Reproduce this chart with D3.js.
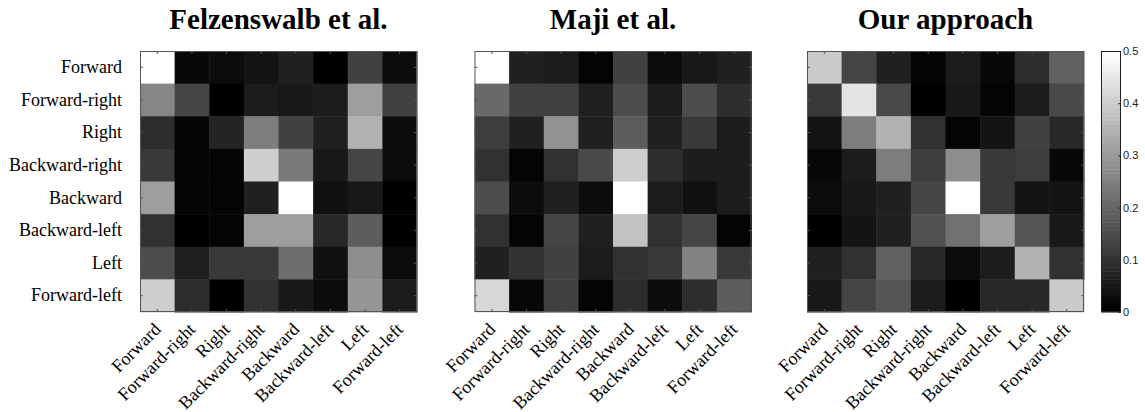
<!DOCTYPE html>
<html>
<head>
<meta charset="utf-8">
<script src="https://cdn.jsdelivr.net/npm/d3@7"></script>
<style>
  body { margin: 0; background: #fff; }
  svg { display: block; }
</style>
</head>
<body>
<svg id="chart" width="1145" height="412"></svg>
<script>
// Direction classes (rows = true class, columns = predicted class)
const directions = ["Forward", "Forward-right", "Right", "Backward-right",
                    "Backward", "Backward-left", "Left", "Forward-left"];

const methodTitles = ["Felzenswalb et al.", "Maji et al.", "Our approach"];

// Row-normalised confusion matrices
const felzenswalb = [
  [0.690, 0.020, 0.025, 0.040, 0.065, 0.005, 0.125, 0.030],
  [0.265, 0.135, 0.005, 0.060, 0.050, 0.060, 0.305, 0.125],
  [0.090, 0.015, 0.075, 0.245, 0.125, 0.070, 0.350, 0.030],
  [0.115, 0.015, 0.015, 0.405, 0.240, 0.050, 0.135, 0.025],
  [0.305, 0.015, 0.010, 0.070, 0.510, 0.035, 0.050, 0.005],
  [0.100, 0.005, 0.015, 0.305, 0.305, 0.080, 0.185, 0.005],
  [0.155, 0.070, 0.110, 0.110, 0.215, 0.035, 0.275, 0.030],
  [0.400, 0.090, 0.005, 0.100, 0.050, 0.025, 0.295, 0.055]
];

const maji = [
  [0.600, 0.070, 0.055, 0.010, 0.125, 0.025, 0.050, 0.065],
  [0.205, 0.125, 0.125, 0.070, 0.155, 0.055, 0.155, 0.090],
  [0.120, 0.070, 0.285, 0.070, 0.185, 0.070, 0.110, 0.060],
  [0.100, 0.015, 0.100, 0.145, 0.400, 0.090, 0.060, 0.060],
  [0.155, 0.025, 0.070, 0.025, 0.580, 0.055, 0.035, 0.060],
  [0.100, 0.015, 0.135, 0.070, 0.380, 0.100, 0.135, 0.015],
  [0.070, 0.100, 0.125, 0.055, 0.100, 0.115, 0.255, 0.115],
  [0.420, 0.020, 0.125, 0.010, 0.090, 0.030, 0.090, 0.185]
];

const ours = [
  [0.395, 0.140, 0.070, 0.010, 0.055, 0.020, 0.090, 0.195],
  [0.110, 0.440, 0.145, 0.000, 0.050, 0.010, 0.060, 0.145],
  [0.040, 0.245, 0.345, 0.100, 0.010, 0.040, 0.130, 0.080],
  [0.020, 0.060, 0.245, 0.120, 0.275, 0.110, 0.120, 0.020],
  [0.025, 0.050, 0.070, 0.135, 0.535, 0.110, 0.040, 0.040],
  [0.000, 0.040, 0.070, 0.160, 0.225, 0.305, 0.165, 0.050],
  [0.070, 0.100, 0.195, 0.080, 0.030, 0.055, 0.345, 0.100],
  [0.050, 0.140, 0.165, 0.060, 0.000, 0.080, 0.080, 0.395]
];

const matrices = [felzenswalb, maji, ours];
const colorLimits = [0, 0.5];
const colorbarTicks = [0, 0.1, 0.2, 0.3, 0.4, 0.5];

// ---- layout ----
const W = 1145, H = 412;
const plotTop = 51, plotH = 261, plotW = 277;
const panelLefts = [140, 474.5, 807];
const cbLeft = 1101, cbWidth = 20;
const serif = "'Liberation Serif', 'Times New Roman', serif";
const sans = "'Liberation Sans', Arial, sans-serif";
const frameColor = "#555";
const labelSize = 18;

const svg = d3.select("#chart");
svg.append("rect").attr("width", W).attr("height", H).attr("fill", "#fff");

// 64-step grey colormap over the colour limits (values beyond are clamped)
const nLevels = 64;
const greyLevels = d3.range(nLevels).map(i => {
  const g = Math.round(255 * i / (nLevels - 1));
  return d3.rgb(g, g, g).formatHex();
});
const colorScale = d3.scaleQuantize().domain(colorLimits).range(greyLevels);
const colorOf = v => colorScale(Math.max(colorLimits[0], Math.min(colorLimits[1] - 1e-9, v)));

const x = d3.scaleBand().domain(directions).range([0, plotW]);
const y = d3.scaleBand().domain(directions).range([0, plotH]);

matrices.forEach((mat, k) => {
  const g = svg.append("g")
    .attr("transform", `translate(${panelLefts[k]},${plotTop})`);

  const cells = mat.flatMap((row, i) => row.map((v, j) => ({
    row: directions[i], col: directions[j], value: v
  })));

  g.selectAll("rect.cell")
    .data(cells)
    .join("rect")
    .attr("class", "cell")
    .attr("x", d => x(d.col))
    .attr("y", d => y(d.row))
    .attr("width", x.bandwidth() + 0.5)
    .attr("height", y.bandwidth() + 0.5)
    .attr("fill", d => colorOf(d.value));

  // ticks pointing into the plot on all four sides
  const tick = 3;
  const left = g.append("g").call(
    d3.axisLeft(y).tickSizeInner(-tick).tickSizeOuter(0).tickPadding(18)
      .tickFormat(k === 0 ? (d => d) : () => ""));
  const right = g.append("g").attr("transform", `translate(${plotW},0)`)
    .call(d3.axisRight(y).tickSizeInner(-tick).tickSizeOuter(0).tickFormat(() => ""));
  const top = g.append("g")
    .call(d3.axisTop(x).tickSizeInner(-tick).tickSizeOuter(0).tickFormat(() => ""));
  const bottom = g.append("g").attr("transform", `translate(0,${plotH})`)
    .call(d3.axisBottom(x).tickSizeInner(-tick).tickSizeOuter(0).tickFormat(() => ""));

  [left, right, top, bottom].forEach(a => {
    a.select(".domain").remove();
    a.selectAll(".tick line").attr("stroke", frameColor).attr("stroke-width", 1);
  });
  left.selectAll(".tick text")
    .attr("font-family", serif)
    .attr("font-size", labelSize)
    .attr("fill", "#000");

  // rotated column labels
  g.append("g").selectAll("text")
    .data(directions)
    .join("text")
    .attr("transform", d => `translate(${x(d) + x.bandwidth() / 2},${plotH + 14}) rotate(-45)`)
    .attr("text-anchor", "end")
    .attr("dy", "0.35em")
    .attr("font-family", serif)
    .attr("font-size", labelSize)
    .attr("fill", "#000")
    .text(d => d);

  // axes box
  g.append("rect")
    .attr("x", 0.5).attr("y", 0.5)
    .attr("width", plotW - 1).attr("height", plotH - 1)
    .attr("fill", "none")
    .attr("stroke", frameColor)
    .attr("stroke-width", 1);

  svg.append("text")
    .attr("x", panelLefts[k] + plotW / 2)
    .attr("y", 29)
    .attr("text-anchor", "middle")
    .attr("font-family", serif)
    .attr("font-weight", "bold")
    .attr("font-size", 29)
    .attr("fill", "#000")
    .text(methodTitles[k]);
});

// ---- colorbar ----
const cbScale = d3.scaleLinear().domain(colorLimits).range([plotTop + plotH, plotTop]);
const cb = svg.append("g");
const step = (colorLimits[1] - colorLimits[0]) / nLevels;
cb.selectAll("rect.level")
  .data(d3.range(nLevels))
  .join("rect")
  .attr("class", "level")
  .attr("x", cbLeft)
  .attr("width", cbWidth)
  .attr("y", i => cbScale(colorLimits[0] + (i + 1) * step))
  .attr("height", i => cbScale(colorLimits[0] + i * step) - cbScale(colorLimits[0] + (i + 1) * step) + 0.5)
  .attr("fill", i => greyLevels[i]);

const cbAxis = cb.append("g")
  .attr("transform", `translate(${cbLeft + cbWidth},0)`)
  .call(d3.axisRight(cbScale).tickValues(colorbarTicks)
    .tickSizeInner(-3).tickSizeOuter(0).tickPadding(2)
    .tickFormat(d => d === 0 ? "0" : d3.format(".1f")(d)));
cbAxis.select(".domain").remove();
cbAxis.selectAll(".tick line").attr("stroke", "#333");
cbAxis.selectAll(".tick text")
  .attr("font-family", sans)
  .attr("font-size", 11)
  .attr("fill", "#222");

cb.append("rect")
  .attr("x", cbLeft + 0.5).attr("y", plotTop + 0.5)
  .attr("width", cbWidth - 1).attr("height", plotH - 1)
  .attr("fill", "none")
  .attr("stroke", "#222");
</script>
</body>
</html>
